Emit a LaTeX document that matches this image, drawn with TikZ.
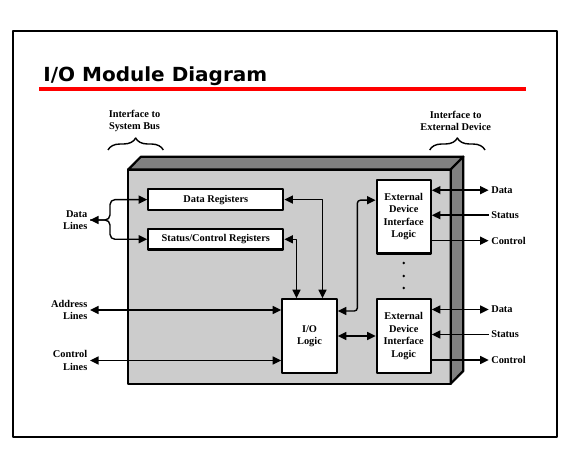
\documentclass[tikz,border=0pt]{standalone}
\usepackage{fontspec}
\setmainfont{Liberation Serif}
\newfontfamily\titlefont{DejaVu Sans}
\usetikzlibrary{arrows.meta,calc,decorations.pathreplacing}
\begin{document}
\begin{tikzpicture}[x=1bp, y=-1bp, font=\bfseries\fontsize{10.4}{12.5}\selectfont, line join=round, line width=1.4bp, >={Triangle[length=8.5bp,width=8bp]},
 box/.style={draw, fill=white, line width=2.2bp, inner sep=0pt, align=center},
 regbox/.style={box, minimum width=135bp, minimum height=20.5bp},
 logicbox/.style={box, minimum width=54bp, minimum height=73.5bp},
 lbl/.style={inner sep=2bp, align=center},
 face/.style={line width=2.2bp}]
 \def\xl{128.3}\def\xr{450.7}\def\yt{169.5}\def\yb{383.7}\def\dx{12.6}\def\dy{12.8}
 \useasboundingbox (0,0) rectangle (584,455);
 \draw[line width=2.2bp] (12.7,31) rectangle (556.7,437.3);
 \node[anchor=base west, inner sep=0pt, xscale=1.03, font=\titlefont\bfseries\fontsize{19.5}{22}\selectfont] (title) at (42.7,81.7) {I/O Module Diagram};
 \draw[red, line width=4bp] (39,88.8) -- (525.7,88.8);
 \node[lbl] (sysbus) at (134.5,121) {Interface to\\System Bus};
 \node[lbl] (extdev) at (455.7,121) {Interface to\\External Device};
 \draw[decorate, decoration={brace, amplitude=12bp}] (108,150) -- (163.3,150);
 \draw[decorate, decoration={brace, amplitude=12bp}] (429.7,150) -- (485,150);
 \filldraw[fill=gray!40, face] (\xl,\yt) rectangle (\xr,\yb);
 \filldraw[fill=gray, face] (\xl,\yt) -- (\xl+\dx,\yt-\dy) -- (\xr+\dx,\yt-\dy) -- (\xr,\yt) -- cycle;
 \filldraw[fill=gray, face] (\xr,\yt) -- (\xr+\dx,\yt-\dy) -- (\xr+\dx,\yb-\dy) -- (\xr,\yb) -- cycle;
 \node[regbox] (dreg) at (215.8,199.6) {Data Registers};
 \node[regbox] (sreg) at (215.8,239.3) {Status/Control Registers};
 \node[logicbox, minimum width=54.5bp] (iol) at (309.5,336) {I/O\\Logic};
 \node[logicbox] (edt) at (403.7,216.7) {External\\Device\\Interface\\Logic};
 \node[logicbox] (edb) at (403.7,336) {External\\Device\\Interface\\Logic};
 \foreach \y in {263,276,288} \fill (403.7,\y) circle (1.4bp);
 \node[lbl, anchor=east, align=right] (dlines) at (90,220) {Data\\Lines};
 \node[lbl, anchor=east, align=right] (alines) at (90,310) {Address\\Lines};
 \node[lbl, anchor=east, align=right] (clines) at (90,360.5) {Control\\Lines};
 \coordinate (fork) at (110,220);
 \draw[<->, rounded corners=5bp] (dlines.east) -| (fork |- dreg.west) -- (dreg.west);
 \draw[->, rounded corners=5bp] (dlines.east) -| (fork |- sreg.west) -- (sreg.west);
 \draw[<->] (alines.east) -- (alines.east -| iol.west);
 \draw[<->] (clines.east) -- (clines.east -| iol.west);
 \draw[<->] (dreg.east) -| ([xshift=13bp]iol.north);
 \draw[<->] (sreg.east) -| ([xshift=-13bp]iol.north);
 \draw[<->, rounded corners=3bp] ([yshift=25bp]iol.east) -- ++(19.5,0) |- ([yshift=16.5bp]edt.west);
 \draw[<->] (iol.east) -- (edb.west);
 \foreach \e in {edt,edb}{
  \node[lbl, anchor=west] (\e-data) at ($(\e.east)+(56.8,-26.5)$) {Data};
  \node[lbl, anchor=west] (\e-status) at ($(\e.east)+(56.8,-1.5)$) {Status};
  \node[lbl, anchor=west] (\e-control) at ($(\e.east)+(56.8,24)$) {Control};
  \draw[<->] (\e-data.west -| \e.east) -- (\e-data.west);
  \draw[<-] (\e-status.west -| \e.east) -- (\e-status.west);
  \draw[->] (\e-control.west -| \e.east) -- (\e-control.west);
 }
\end{tikzpicture}
\end{document}
